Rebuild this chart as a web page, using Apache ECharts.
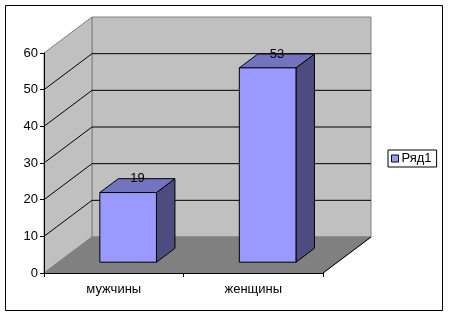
<!DOCTYPE html>
<html><head><meta charset="utf-8">
<script src="https://cdn.jsdelivr.net/npm/echarts@6/dist/echarts.min.js"></script>
<style>html,body{margin:0;padding:0;background:#fff}#c{width:449px;height:316px}</style>
</head><body><div id="c"></div>
<script>
const categories = ['мужчины', 'женщины'];
const values = [19, 53];
const seriesName = 'Ряд1';
const yTicks = [0, 10, 20, 30, 40, 50, 60];

// 3D depth vector (pixels) and bar placement within depth
const DX = 48, DY = -36;
const FRONT = 0.3, DEPTH = 0.385, BARW = 0.406;
const FONT = 'Liberation Sans, Arial, sans-serif';
const FS = 13;

const chart = echarts.init(document.getElementById('c'));

function wallsRender(params, api) {
  const cs = params.coordSys;
  const L = cs.x, R = cs.x + cs.width;
  const yOf = v => api.coord([0, v])[1];
  const y0 = yOf(yTicks[0]), yTop = yOf(yTicks[yTicks.length - 1]);
  const children = [];
  children.push({type: 'polygon', shape: {points: [[L + DX, yTop + DY], [R + DX, yTop + DY], [R + DX, y0 + DY], [L + DX, y0 + DY]]},
    style: {fill: '#c0c0c0', stroke: '#808080', lineWidth: 1}});
  children.push({type: 'polygon', shape: {points: [[L, yTop], [L + DX, yTop + DY], [L + DX, y0 + DY], [L, y0]]},
    style: {fill: '#c0c0c0', stroke: '#808080', lineWidth: 1}});
  children.push({type: 'polygon', shape: {points: [[L, y0], [L + DX, y0 + DY], [R + DX, y0 + DY], [R, y0]]},
    style: {fill: '#808080', stroke: '#808080', lineWidth: 1}});
  children.push({type: 'line', shape: {x1: R, y1: y0, x2: R + DX, y2: y0 + DY}, style: {stroke: '#000', lineWidth: 1}});
  yTicks.slice(1, -1).forEach(v => {
    const y = yOf(v);
    children.push({type: 'polyline', shape: {points: [[L, y], [L + DX, y + DY], [R + DX, y + DY]]},
      style: {stroke: '#000', lineWidth: 1, fill: null}});
  });
  return {type: 'group', children};
}

function barRender(params, api) {
  const idx = api.value(0), val = api.value(1);
  const c = api.coord([idx, 0]);
  const t = api.coord([idx, val]);
  const bw = api.size([1, 0])[0] * BARW;
  const fx = DX * FRONT, fy = DY * FRONT;
  const dx = DX * DEPTH, dy = DY * DEPTH;
  const x0 = c[0] - bw / 2 + fx, x1 = x0 + bw;
  const yb = c[1] + fy, yt = t[1] + fy;
  const front = '#9999ff', top = '#7373bf', side = '#4c4c80';
  return {type: 'group', children: [
    {type: 'polygon', shape: {points: [[x1, yt], [x1 + dx, yt + dy], [x1 + dx, yb + dy], [x1, yb]]},
      style: {fill: side, stroke: '#000', lineWidth: 1}},
    {type: 'polygon', shape: {points: [[x0, yt], [x1, yt], [x1 + dx, yt + dy], [x0 + dx, yt + dy]]},
      style: {fill: top, stroke: '#000', lineWidth: 1}},
    {type: 'rect', shape: {x: x0, y: yt, width: bw, height: yb - yt},
      style: {fill: front, stroke: '#000', lineWidth: 1}},
    {type: 'text', style: {text: String(val), x: (x0 + x1) / 2 + dx / 2, y: yt + dy,
      textAlign: 'center', textVerticalAlign: 'middle', fill: '#000', font: FS + 'px ' + FONT}}
  ]};
}

chart.setOption({
  animation: false,
  backgroundColor: '#fff',
  grid: {left: 44, top: 53, right: 126, bottom: 43},
  legend: {
    data: [seriesName], orient: 'vertical', left: 388, top: 150,
    padding: [2, 5, 2, 3], itemWidth: 7, itemHeight: 7, itemGap: 0,
    borderColor: '#000', borderWidth: 1, icon: 'rect',
    itemStyle: {borderColor: '#000', borderWidth: 1},
    textStyle: {fontFamily: FONT, fontSize: FS, color: '#000', padding: [0, 0, 0, -2]}
  },
  xAxis: {
    type: 'category', data: categories, z: 10,
    axisLine: {lineStyle: {color: '#000', width: 1}},
    axisTick: {show: true, length: 4, lineStyle: {color: '#000'}},
    axisLabel: {margin: 10, fontFamily: FONT, fontSize: FS, color: '#000'},
    splitLine: {show: false}
  },
  yAxis: {
    type: 'value', min: yTicks[0], max: yTicks[yTicks.length - 1], interval: yTicks[1] - yTicks[0], z: 10,
    axisLine: {show: true, lineStyle: {color: '#000', width: 1}},
    axisTick: {show: true, length: 4, lineStyle: {color: '#000'}},
    axisLabel: {margin: 6, fontFamily: FONT, fontSize: FS, color: '#000'},
    splitLine: {show: false}
  },
  series: [
    {type: 'custom', name: 'walls', renderItem: wallsRender, data: [[0, 0]], z: 1, silent: true},
    {type: 'custom', name: seriesName, renderItem: barRender, z: 3,
      itemStyle: {color: '#9999ff', borderColor: '#000', borderWidth: 1},
      data: categories.map((c, i) => [i, values[i]])}
  ],
  graphic: [{type: 'rect', shape: {x: 5.5, y: 5.5, width: 437, height: 305}, style: {fill: null, stroke: '#000', lineWidth: 1}, z: 100}]
});
</script></body></html>
